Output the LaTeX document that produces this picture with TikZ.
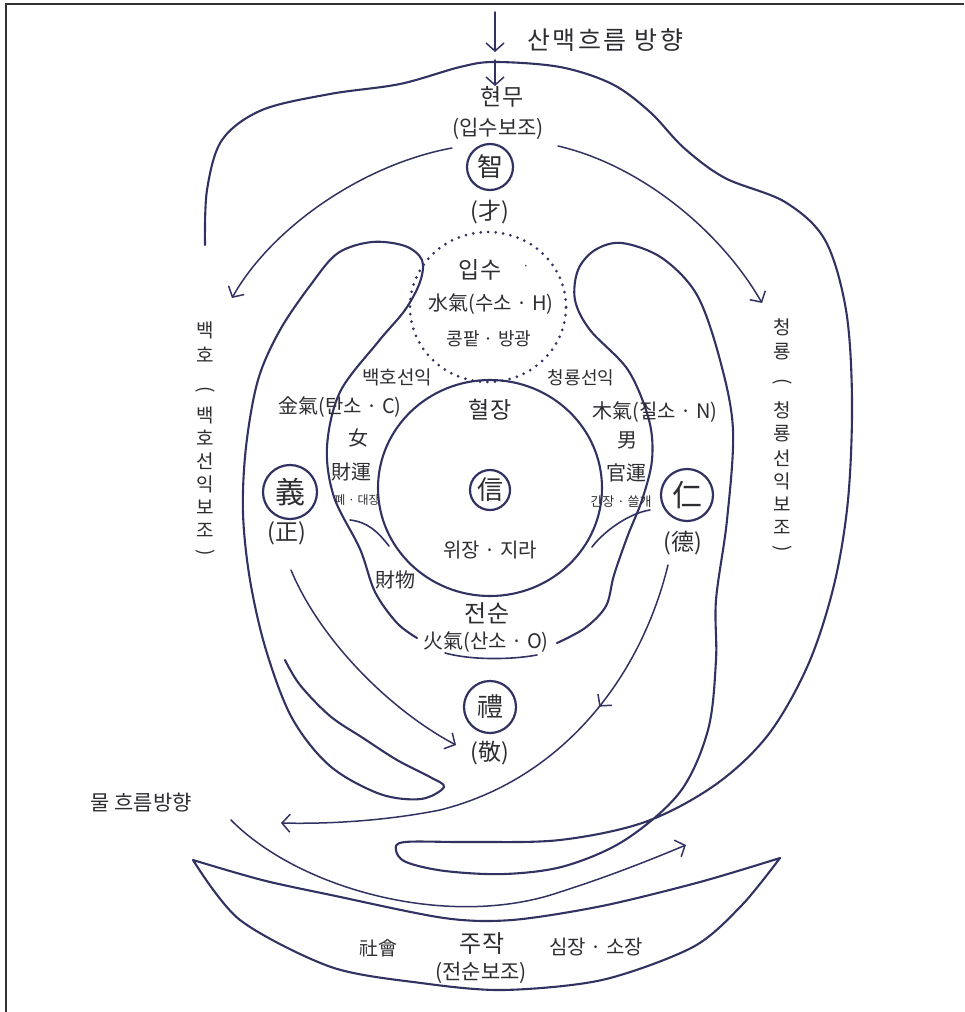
\documentclass[tikz,border=0pt]{standalone}
\usepackage{fontspec}
\setmainfont{Noto Sans CJK KR}
\usetikzlibrary{arrows.meta,decorations.markings}
\definecolor{ink}{RGB}{50,50,98}
\definecolor{txt}{RGB}{45,45,50}
\begin{document}
\begin{tikzpicture}[x=1pt,y=-1pt,
  ridge/.style={draw=ink,line width=2.1pt,line join=round,line cap=round},
  thin/.style={draw=ink,line width=1.6pt,line cap=round},
  arr/.style={draw=ink,line width=1.5pt,line cap=round,-{Straight Barb[length=8pt,width=18pt,line width=1.5pt]}},
  lab/.style={text=txt,inner sep=0pt,font=\fontsize{20}{24}\selectfont},
  big/.style={lab,font=\fontsize{23}{26}\selectfont},
  small/.style={lab,font=\fontsize{12}{14}\selectfont},
  vch/.style={lab,font=\fontsize{19}{22}\selectfont},
  ring/.style={draw=ink,circle,line width=2.2pt,inner sep=0pt,text=txt,font=\fontsize{26}{28}\selectfont}]
\useasboundingbox (0,0) rectangle (964,1012);
% frame
\draw[black!80,line width=2pt] (6,1012) -- (6,4) -- (964,4);

% top arrows
\coordinate (t0) at (495,12); \coordinate (t1) at (495,52);
\coordinate (t2) at (495,60); \coordinate (t3) at (495,86);
\draw[arr] (t0) -- (t1);
\draw[arr] (t2) -- (t3);
\node[lab,font=\fontsize{25}{28}\selectfont\addfontfeatures{LetterSpace=10}, anchor=west] (flow) at (527,40) {산맥흐름 방향};

\node[big] (hm) at (502,97) {현무};
\node[lab,font=\fontsize{21}{24}\selectfont] (hmb) at (498,129) {(입수보조)};
\node[ring,minimum size=46pt] (zhi) at (490,167) {智};
\node[big] (cai) at (490,212) {(才)};

% arrows from hyeonmu
\coordinate (la0) at (452,148); \coordinate (la1) at (232,298);
\coordinate (ra0) at (558,146); \coordinate (ra1) at (762,303);
\draw[arr] (la0) .. controls (360,165) and (270,230) .. (la1);
\draw[arr] (ra0) .. controls (640,165) and (720,230) .. (ra1);

% outer ridge top + right spiral
\draw[ridge] plot[smooth,tension=0.55] coordinates {
 (205,245) (207,190) (222,140) (262,110) (330,94) (400,84) (460,67) (495,62) (560,67) (612,84) (650,112) (684,148) (725,178) (785,202) (825,240) (846,310) (852,400) (848,500) (834,585) (808,665) (768,735) (715,785) (645,822) (560,840) (470,842) (405,842)
 (396,850) (406,862) (445,871) (505,874) (565,866) (625,840) (680,792) (708,730) (716,660) (716,600) (727,520) (733,430) (720,360) (697,295) (662,258) (622,243) (595,250) (578,270) (575,300) (590,330) (628,370) (649,420) (652,460) (642,500) (628,535) (614,575) (606,606) (585,628) (557,643)};

% left tongue
\draw[ridge] plot[smooth,tension=0.55] coordinates {
 (417,638) (397,623) (375,592) (360,549) (334,497) (327,447) (340,392) (378,342) (405,310) (420,282) (422,260) (405,246) (372,242) (338,253) (312,283) (280,330) (258,380) (246,447) (243,513) (250,580) (266,650) (292,718) (330,766) (380,794) (421,799) (444,787) (430,777) (397,760) (363,738) (330,716) (300,685) (285,660)};

% short joins
\draw[thin] (350,520) .. controls (368,522) and (378,532) .. (389,546);
\draw[thin] (650,510) .. controls (630,513) and (605,530) .. (592,547);
% under 火氣
\draw[thin] (445,653) .. controls (470,660) and (510,660) .. (537,655);

% dotted circle and main circle
\draw[ink,line width=3pt,dash pattern=on 0pt off 7.5pt,line cap=round] (488,307) ellipse [x radius=78pt,y radius=75pt];
\draw[ridge] (490,488) ellipse [x radius=112pt,y radius=108pt];

% centre texts
\node[big] (ips) at (480,270) {입수};
\node[lab,font=\fontsize{12}{14}\selectfont] (dot1) at (526,268) {·};
\node[lab] (su) at (491,304) {水氣(수소 · H)};
\node[lab,font=\fontsize{18}{20}\selectfont] (kong) at (489,339) {콩팥 · 방광};
\node[lab,font=\fontsize{19}{22}\selectfont] (bhs) at (397,377) {백호선익};
\node[lab,font=\fontsize{18}{22}\selectfont] (cys) at (581,378) {청룡선익};
\node[big] (hj) at (490,410) {혈장};
\node[ring,minimum size=40pt] (sin) at (490,490) {信};
\node[lab] (wj) at (490,550) {위장 · 지라};

\node[lab] (gold) at (340,407) {金氣(탄소 · C)};
\node[lab] (nyeo) at (358,438) {女};
\node[lab] (jw) at (351,472) {財運};
\node[small] (pye) at (357,500) {폐 · 대장};
\node[ring,minimum size=54pt,font=\fontsize{30}{32}\selectfont] (yi) at (290,492) {義};
\node[big] (jeong) at (287,533) {(正)};
\node[lab] (jm) at (395,580) {財物};

\node[lab] (wood) at (655,412) {木氣(질소 · N)};
\node[lab] (nam) at (627,440) {男};
\node[lab] (gw) at (626,473) {官運};
\node[small,font=\fontsize{13}{15}\selectfont] (gan) at (621,502) {간장 · 쓸개};
\node[ring,minimum size=52pt,font=\fontsize{30}{32}\selectfont] (in) at (687,495) {仁};
\node[big] (deok) at (683,543) {(德)};

\node[big,font=\fontsize{24}{26}\selectfont] (js) at (487,613) {전순};
\node[lab] (fire) at (486,642) {火氣(산소 · O)};
\node[ring,minimum size=52pt] (rye) at (490,707) {禮};
\node[big] (gyeong) at (490,753) {(敬)};

% inner arrows
\coordinate (ya0) at (291,570); \coordinate (ya1) at (456,745);
\draw[arr] (ya0) .. controls (320,640) and (390,710) .. (ya1);
\coordinate (wa0) at (668,565); \coordinate (wa1) at (281,823);
\draw[arr,postaction={decorate},decoration={markings,mark=at position 0.31 with {\arrow{Straight Barb[length=8pt,width=18pt,line width=1.5pt]}}}]
 (wa0) .. controls (640,680) and (560,780) .. (440,810) .. controls (380,822) and (320,824) .. (wa1);
\coordinate (arc0) at (231,820); \coordinate (arc1) at (686,845);
\draw[arr] (arc0) .. controls (300,890) and (450,930) .. (560,892) .. controls (610,876) and (650,860) .. (arc1);

% vertical labels
\foreach \t/\y [count=\i] in {백/330,호/355,{\rotatebox{-90}{(}}/390,백/415,호/438,선/461,익/484,보/507,조/530,{\rotatebox{-90}{)}}/553}
  \node[vch] (bh\i) at (205,\y) {\t};
\foreach \t/\y [count=\i] in {청/327,룡/352,{\rotatebox{-90}{(}}/382,청/410,룡/434,선/458,익/481,보/504,조/527,{\rotatebox{-90}{)}}/549}
  \node[vch] (cy\i) at (782,\y) {\t};

% water label
\node[lab,font=\fontsize{21}{24}\selectfont] (water) at (141,803) {물 흐름방향};

% bowl (jujak)
\draw[ridge] plot[smooth,tension=0.5] coordinates {(193,860) (262,880) (331,895) (444,918) (512,920) (602,906) (700,882) (780,858)}
  -- plot[smooth,tension=0.5] coordinates {(780,858) (742,905) (693,947) (602,980) (503,990) (421,983) (331,967) (240,920) (193,860)};
\node[lab,font=\fontsize{19}{22}\selectfont] (sh) at (378,948) {社會};
\node[big,font=\fontsize{24}{26}\selectfont] (jj) at (482,943) {주작};
\node[lab] (sj) at (596,947) {심장 · 소장};
\node[lab,font=\fontsize{21}{24}\selectfont] (jjb) at (481,973) {(전순보조)};
\end{tikzpicture}
\end{document}
